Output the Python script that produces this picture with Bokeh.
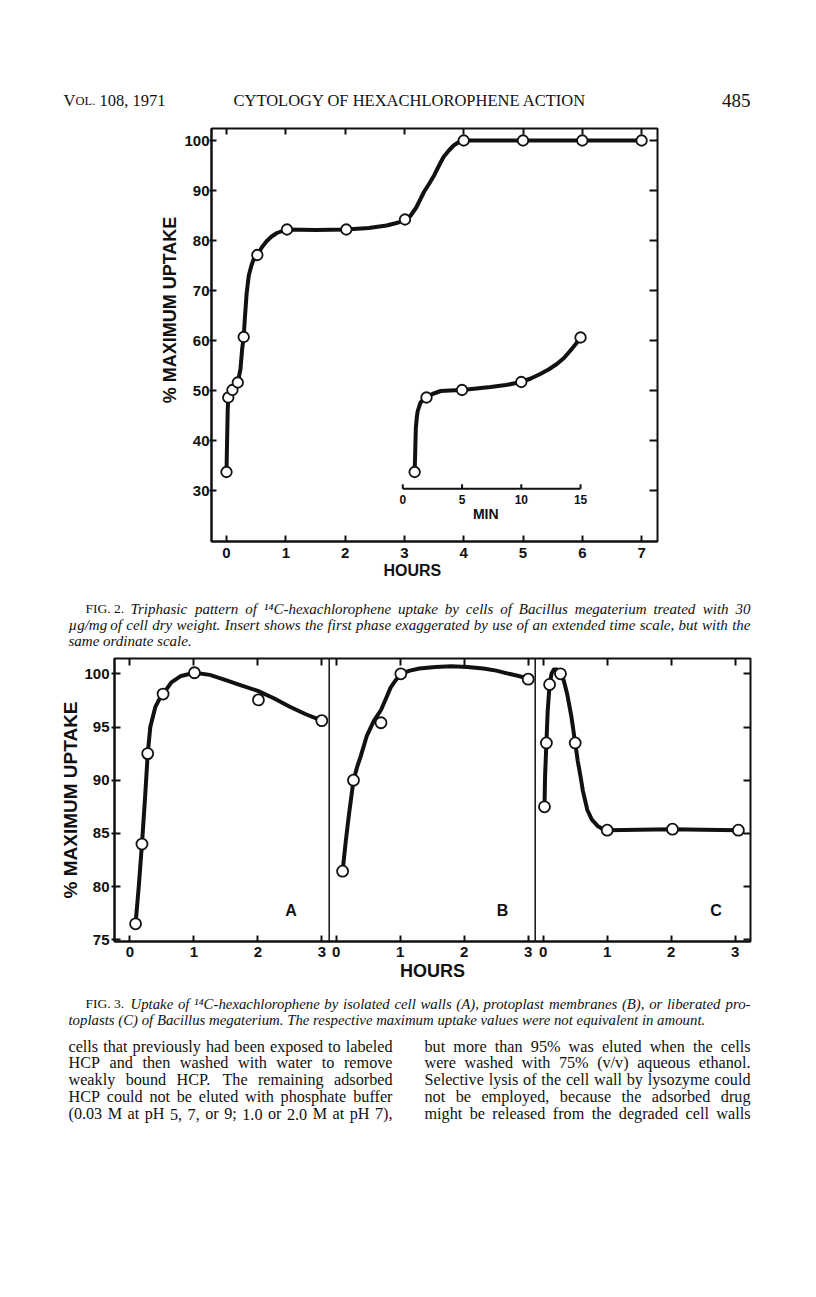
import math
from bokeh.plotting import figure
from bokeh.models import Range1d, LinearAxis, FixedTicker, Span
from bokeh.layouts import column
from bokeh.embed import file_html
from bokeh.resources import INLINE
from bokeh.core.properties import value

# ---------------- Fig. 2 data ----------------
fig2_hours = [0.0, 0.03, 0.10, 0.19, 0.29, 0.52, 1.02, 2.02, 3.01, 4.0, 5.0, 6.0, 7.0]
fig2_uptake = [33.7, 48.6, 50.1, 51.6, 60.7, 77.1, 82.2, 82.2, 84.2, 100.0, 100.0, 100.0, 100.0]
# traced course of the hand-drawn curve
fig2_curve_hours = [0.0, 0.01, 0.02, 0.03, 0.06, 0.10, 0.15, 0.19, 0.236, 0.264, 0.29, 0.31,
                    0.34, 0.376, 0.42, 0.46, 0.52, 0.60, 0.68, 0.76, 0.85, 0.94, 1.02, 1.5, 2.02,
                    2.4, 2.7, 2.9, 3.01, 3.1, 3.2, 3.33, 3.42, 3.5, 3.58, 3.66, 3.75, 3.83, 3.92,
                    4.0, 5.0, 6.0, 7.0]
fig2_curve_uptake = [33.7, 40.0, 46.0, 48.6, 49.5, 50.1, 50.7, 51.6, 54.3, 58.3, 60.7, 64.5,
                     69.5, 73.0, 75.0, 76.3, 77.1, 78.7, 79.9, 80.8, 81.5, 81.9, 82.2, 82.1, 82.2,
                     82.5, 83.0, 83.6, 84.2, 84.9, 86.6, 89.7, 91.4, 93.0, 94.9, 96.7, 98.0, 99.0,
                     99.7, 100.0, 100.0, 100.0, 100.0]
inset_minutes = [1, 2, 5, 10, 15]
inset_uptake = [33.7, 48.6, 50.1, 51.7, 60.6]
inset_curve_minutes = [1.0, 1.05, 1.1, 1.18, 1.25, 1.38, 1.5, 1.75, 2.0, 2.5, 3.2, 4.0, 5.0, 6.2,
                       7.4, 8.7, 10.0, 10.8, 11.6, 12.3, 13.0, 13.6, 14.15, 14.6, 15.0]
inset_curve_uptake = [33.7, 38.0, 42.5, 44.6, 45.8, 46.8, 47.6, 48.2, 48.6, 49.3, 49.9, 50.0, 50.1,
                      50.4, 50.7, 51.1, 51.7, 52.4, 53.3, 54.2, 55.3, 56.5, 58.0, 59.3, 60.6]
fig2_xticks = [0, 1, 2, 3, 4, 5, 6, 7]
fig2_yticks = [30, 40, 50, 60, 70, 80, 90, 100]
inset_ticks = [0, 5, 10, 15]
inset_tick_labels = ["0", "5", "10", "15"]

# ---------------- Fig. 3 data ----------------
panel_names = ["A", "B", "C"]
a_hours = [0.09, 0.19, 0.28, 0.52, 1.01, 2.01, 3.0]
a_uptake = [76.5, 84.0, 92.5, 98.1, 100.1, 97.55, 95.6]
a_curve_hours = [0.09, 0.14, 0.19, 0.24, 0.28, 0.32, 0.40, 0.46, 0.52, 0.65, 0.80, 1.01, 1.25,
                 1.5, 1.75, 2.0, 2.25, 2.5, 2.75, 3.0]
a_curve_uptake = [76.5, 80.0, 84.0, 88.5, 92.5, 95.0, 96.9, 97.6, 98.1, 99.2, 99.8, 100.1, 99.9,
                  99.4, 98.9, 98.4, 97.7, 96.9, 96.2, 95.6]
b_hours = [0.10, 0.27, 0.70, 1.01, 3.0]
b_uptake = [81.45, 90.0, 95.4, 100.0, 99.5]
b_curve_hours = [0.10, 0.15, 0.20, 0.27, 0.33, 0.38, 0.48, 0.59, 0.70, 0.78, 0.85, 0.93, 1.01,
                 1.15, 1.3, 1.55, 1.8, 2.05, 2.3, 2.5, 2.7, 2.85, 3.0]
b_curve_uptake = [81.45, 84.3, 86.8, 90.0, 91.3, 92.2, 94.2, 95.6, 96.6, 97.7, 98.7, 99.4, 100.0,
                  100.3, 100.5, 100.65, 100.7, 100.65, 100.5, 100.3, 100.0, 99.8, 99.55]
c_hours = [0.02, 0.05, 0.10, 0.27, 0.50, 1.0, 2.02, 3.05]
c_uptake = [87.5, 93.5, 99.0, 100.0, 93.5, 85.3, 85.4, 85.3]
c_curve_hours = [0.02, 0.03, 0.05, 0.07, 0.10, 0.13, 0.166, 0.22, 0.27, 0.32, 0.375, 0.44, 0.50,
                 0.54, 0.585, 0.62, 0.69, 0.76, 0.85, 0.93, 1.0, 1.5, 2.02, 2.5, 3.05]
c_curve_uptake = [87.5, 90.5, 93.5, 96.5, 99.0, 100.0, 100.4, 100.4, 100.2, 99.4, 98.1, 96.0, 93.5,
                  91.8, 90.3, 89.0, 87.2, 86.3, 85.7, 85.4, 85.3, 85.35, 85.4, 85.35, 85.3]
fig3_hour_ticks = [0, 1, 2, 3]
fig3_yticks = [75, 80, 85, 90, 95, 100]

# ---------------- page text ----------------
header_left = ["V", "OL.", "108, 1971"]
header_title = "CYTOLOGY OF HEXACHLOROPHENE ACTION"
header_page = "485"
cap2_label = "FIG. 2."
cap2_lines = [
    "Triphasic pattern of \u00b9\u2074C-hexachlorophene uptake by cells of Bacillus megaterium treated with 30",
    "\u00b5g/mg of cell dry weight. Insert shows the first phase exaggerated by use of an extended time scale, but with the",
    "same ordinate scale.",
]
cap3_label = "FIG. 3."
cap3_lines = [
    "Uptake of \u00b9\u2074C-hexachlorophene by isolated cell walls (A), protoplast membranes (B), or liberated pro-",
    "toplasts (C) of Bacillus megaterium. The respective maximum uptake values were not equivalent in amount.",
]
body_left = [
    "cells that previously had been exposed to labeled",
    "HCP and then washed with water to remove",
    "weakly bound HCP. The remaining adsorbed",
    "HCP could not be eluted with phosphate buffer",
    "(0.03 M at pH 5, 7, or 9; 1.0 or 2.0 M at pH 7),",
]
body_right = [
    "but more than 95% was eluted when the cells",
    "were washed with 75% (v/v) aqueous ethanol.",
    "Selective lysis of the cell wall by lysozyme could",
    "not be employed, because the adsorbed drug",
    "might be released from the degraded cell walls",
]

SERIF = "Liberation Serif"
SANS = "Liberation Sans"
INK = "#111111"
NBSP = "\u00a0"
W = 816

# advance widths (1/1000 em) of the Times faces, used only to justify the text lines
ROMAN_W = dict(zip("abcdefghijklmnopqrstuvwxyz",
                   [444, 500, 444, 500, 444, 333, 500, 500, 278, 278, 500, 278, 778, 500, 500, 500,
                    500, 333, 389, 278, 500, 500, 722, 500, 500, 444]))
ROMAN_W.update(zip("ABCDEFGHIJKLMNOPQRSTUVWXYZ",
                   [722, 667, 667, 722, 611, 556, 722, 722, 333, 389, 722, 611, 889, 722, 722, 556,
                    722, 667, 556, 611, 722, 722, 944, 722, 722, 611]))
ROMAN_W.update({c: 500 for c in "0123456789"})
ROMAN_W.update({" ": 250, ",": 250, ".": 250, ";": 278, ":": 278, "(": 333, ")": 333, "%": 833,
                "/": 278, "-": 333})
ITALIC_W = dict(zip("abcdefghijklmnopqrstuvwxyz",
                    [500, 500, 444, 500, 444, 278, 500, 500, 278, 278, 444, 278, 722, 500, 500, 500,
                     500, 389, 389, 278, 500, 444, 667, 444, 444, 389]))
ITALIC_W.update(zip("ABCDEFGHIJKLMNOPQRSTUVWXYZ",
                    [611, 611, 667, 722, 611, 611, 722, 722, 333, 444, 667, 556, 833, 667, 722, 611,
                     722, 611, 500, 556, 722, 611, 833, 611, 556, 556]))
ITALIC_W.update({c: 500 for c in "0123456789"})
ITALIC_W.update({" ": 250, ",": 250, ".": 250, ";": 333, ":": 333, "(": 333, ")": 333, "-": 333,
                 "/": 278, "\u00b5": 500, "\u00b9": 300, "\u2074": 300})


def page_panel(top, height):
    p = figure(width=W, height=height, x_range=Range1d(0, W), y_range=Range1d(top + height, top),
               output_backend="svg", toolbar_location=None, x_axis_location=None, y_axis_location=None,
               min_border=0, min_border_left=0, min_border_right=0, min_border_top=0, min_border_bottom=0,
               frame_align=False)
    p.xgrid.visible = False
    p.ygrid.visible = False
    p.outline_line_color = None
    return p


def put(p, x, y, s, size, style="normal", font=SERIF, align="left"):
    p.text(x=[x], y=[y], text=[s], text_font=value(font), text_font_size=value(size),
           text_font_style=style, text_align=align, text_baseline="alphabetic", text_color=INK)


def justify(p, x0, x1, y, s, size, style="normal"):
    table = ITALIC_W if style == "italic" else ROMAN_W
    words = s.split(" ")
    widths = [sum(table.get(ch, 500) for ch in w) / 1000.0 * size for w in words]
    gap = (x1 - x0 - sum(widths)) / max(len(words) - 1, 1)
    xs, x = [], x0
    for wd in widths:
        xs.append(x)
        x += wd + gap
    p.text(x=xs[:-1], y=[y] * (len(words) - 1), text=words[:-1], text_font=value(SERIF),
           text_font_size=value(f"{size}px"), text_font_style=style, text_align="left",
           text_baseline="alphabetic", text_color=INK)
    # last word flush with the right margin
    p.text(x=[x1], y=[y], text=[words[-1]], text_font=value(SERIF), text_font_size=value(f"{size}px"),
           text_font_style=style, text_align="right", text_baseline="alphabetic", text_color=INK)


def style_axis(ax, size="15px"):
    ax.major_label_text_font = SANS
    ax.major_label_text_font_style = "bold"
    ax.major_label_text_font_size = size
    ax.major_label_text_color = INK
    ax.minor_tick_line_color = None
    ax.axis_line_width = 2
    ax.axis_line_color = INK
    ax.major_tick_line_width = 2
    ax.major_tick_line_color = INK
    ax.axis_label_text_font = SANS
    ax.axis_label_text_font_style = "bold"
    ax.axis_label_text_color = INK


def blank_axis(ticks, tick_in):
    ax = LinearAxis(ticker=FixedTicker(ticks=ticks), major_label_overrides={t: "" for t in ticks},
                    major_label_text_font_size="0px", major_label_standoff=0,
                    major_tick_in=tick_in, major_tick_out=0, axis_line_color=None,
                    minor_tick_line_color=None, major_tick_line_width=2, major_tick_line_color=INK)
    return ax


# ---------------- header ----------------
hdr = page_panel(0, 120)
put(hdr, 63, 100, header_left[0], "16.5px")
put(hdr, 75, 100, header_left[1], "12.5px")
put(hdr, 99, 100, header_left[2], "16.5px")
put(hdr, 233, 100, header_title, "16.5px")
put(hdr, 750, 100, header_page, "19px", align="right")

# ---------------- Fig. 2 ----------------
p2 = figure(width=W, height=468, x_range=Range1d(-15 / 59.3, 431 / 59.3), y_range=Range1d(19.8, 102.4),
            output_backend="svg", toolbar_location=None, frame_align=False,
            min_border_left=211, min_border_right=W - 657, min_border_top=8, min_border_bottom=47)
p2.xgrid.visible = False
p2.ygrid.visible = False
p2.outline_line_color = INK
p2.outline_line_width = 2
p2.xaxis.ticker = FixedTicker(ticks=fig2_xticks)
p2.yaxis.ticker = FixedTicker(ticks=fig2_yticks)
style_axis(p2.xaxis[0])
style_axis(p2.yaxis[0])
p2.xaxis.major_tick_in = 6
p2.xaxis.major_tick_out = 0
p2.xaxis.major_label_standoff = 6
p2.yaxis.major_tick_in = 5
p2.yaxis.major_tick_out = 2
p2.yaxis.major_label_standoff = 0
# labels sit off-centre in the original: pad with no-break spaces
p2.yaxis.axis_label = NBSP * 10 + "% MAXIMUM UPTAKE"
p2.yaxis.axis_label_text_font_size = "18px"
p2.yaxis.axis_label_standoff = 1
p2.xaxis.axis_label = "HOURS" + NBSP * 10
p2.xaxis.axis_label_text_font_size = "16px"
p2.xaxis.axis_label_standoff = 1
p2.add_layout(blank_axis(fig2_xticks, 6), "above")
p2.add_layout(blank_axis(fig2_yticks, 8), "right")

p2.line(fig2_curve_hours, fig2_curve_uptake, line_width=4, line_color=INK, line_join="round", line_cap="round")
p2.scatter(fig2_hours, fig2_uptake, size=10.5, fill_color="white", line_color=INK, line_width=1.8)

# inset on a minute scale
p2.extra_x_ranges = {"min": Range1d(-(402.3 - 211) / 11.85, (657 - 402.3) / 11.85)}
inset_axis_y = 30.34
p2.line([inset_ticks[0], inset_ticks[-1]], [inset_axis_y, inset_axis_y], x_range_name="min",
        line_width=2, line_color=INK)
p2.segment(x0=inset_ticks, y0=[inset_axis_y] * len(inset_ticks), x1=inset_ticks,
           y1=[inset_axis_y + 0.9] * len(inset_ticks), x_range_name="min", line_width=2, line_color=INK)
p2.text(x=inset_ticks, y=[28.3] * len(inset_ticks), text=inset_tick_labels, x_range_name="min",
        text_font=value(SANS), text_font_style="bold", text_font_size=value("12px"),
        text_align="center", text_baseline="middle", text_color=INK)
p2.text(x=[7.0], y=[25.3], text=["MIN"], x_range_name="min", text_font=value(SANS),
        text_font_style="bold", text_font_size=value("14px"), text_align="center",
        text_baseline="middle", text_color=INK)
p2.line(inset_curve_minutes, inset_curve_uptake, x_range_name="min", line_width=4, line_color=INK,
        line_join="round", line_cap="round")
p2.scatter(inset_minutes, inset_uptake, x_range_name="min", size=10.5, fill_color="white",
           line_color=INK, line_width=1.8)

# ---------------- caption 2 ----------------
c2 = page_panel(588, 62)
put(c2, 85, 608, cap2_label, "13.5px")
justify(c2, 130, 750, 608, cap2_lines[0], 15, style="italic")
justify(c2, 68, 750, 624, cap2_lines[1], 15, style="italic")
put(c2, 68, 640, cap2_lines[2], "15px", style="italic")

# ---------------- Fig. 3 ----------------
px_per_h = 64.0
offsets = [0.0, (335.7 - 129.3) / px_per_h, (542.7 - 129.3) / px_per_h]
p3 = figure(width=W, height=338, x_range=Range1d(-(129.3 - 114) / px_per_h, (750 - 129.3) / px_per_h),
            y_range=Range1d(74.84, 101.44), output_backend="svg", toolbar_location=None, frame_align=False,
            min_border_left=114, min_border_right=W - 750, min_border_top=8, min_border_bottom=47)
p3.xgrid.visible = False
p3.ygrid.visible = False
p3.outline_line_color = INK
p3.outline_line_width = 2
x3_ticks = [h + off for off in offsets for h in fig3_hour_ticks]
x3_labels = {h + off: str(h) for off in offsets for h in fig3_hour_ticks}
p3.xaxis.ticker = FixedTicker(ticks=x3_ticks)
p3.xaxis.major_label_overrides = x3_labels
p3.yaxis.ticker = FixedTicker(ticks=fig3_yticks)
style_axis(p3.xaxis[0])
style_axis(p3.yaxis[0])
p3.xaxis.major_tick_in = 6
p3.xaxis.major_tick_out = 0
p3.xaxis.major_label_standoff = 5
p3.xaxis.axis_label = "HOURS"
p3.xaxis.axis_label_standoff = 1
p3.xaxis.axis_label_text_font_size = "18px"
p3.yaxis.major_tick_in = 6
p3.yaxis.major_tick_out = 3
p3.yaxis.major_label_standoff = 2
p3.yaxis.axis_label = "% MAXIMUM UPTAKE"
p3.yaxis.axis_label_standoff = 0
p3.yaxis.axis_label_text_font_size = "19px"
p3.add_layout(blank_axis(x3_ticks, 7), "above")
p3.add_layout(blank_axis(fig3_yticks, 7), "right")

for loc in ((328.7 - 129.3) / px_per_h, (534.7 - 129.3) / px_per_h):
    p3.add_layout(Span(location=loc, dimension="height", line_color=INK, line_width=1.5))

panels = [
    (a_curve_hours, a_curve_uptake, a_hours, a_uptake, 2.52),
    (b_curve_hours, b_curve_uptake, b_hours, b_uptake, 2.60),
    (c_curve_hours, c_curve_uptake, c_hours, c_uptake, 2.70),
]
for (ch, cu, hh, uu, lab_h), off, name in zip(panels, offsets, panel_names):
    p3.line([h + off for h in ch], cu, line_width=4, line_color=INK, line_join="round", line_cap="round")
    p3.scatter([h + off for h in hh], uu, size=11, fill_color="white", line_color=INK, line_width=1.8)
    p3.text(x=[lab_h + off], y=[77.8], text=[name], text_font=value(SANS), text_font_style="bold",
            text_font_size=value("16px"), text_align="center", text_baseline="middle", text_color=INK)

# ---------------- caption 3 + body ----------------
c3 = page_panel(988, 309)
put(c3, 85, 1003, cap3_label, "13.5px")
justify(c3, 130, 750, 1003, cap3_lines[0], 14.8, style="italic")
put(c3, 68, 1019, cap3_lines[1], "14.8px", style="italic")
for i, s in enumerate(body_left):
    justify(c3, 68, 392, 1046 + 16.9 * i, s, 16.2)
for i, s in enumerate(body_right):
    justify(c3, 424, 750, 1046 + 16.9 * i, s, 16.2)

page = column(hdr, p2, c2, p3, c3, spacing=0)
open("out.html", "w").write(file_html(page, INLINE))
